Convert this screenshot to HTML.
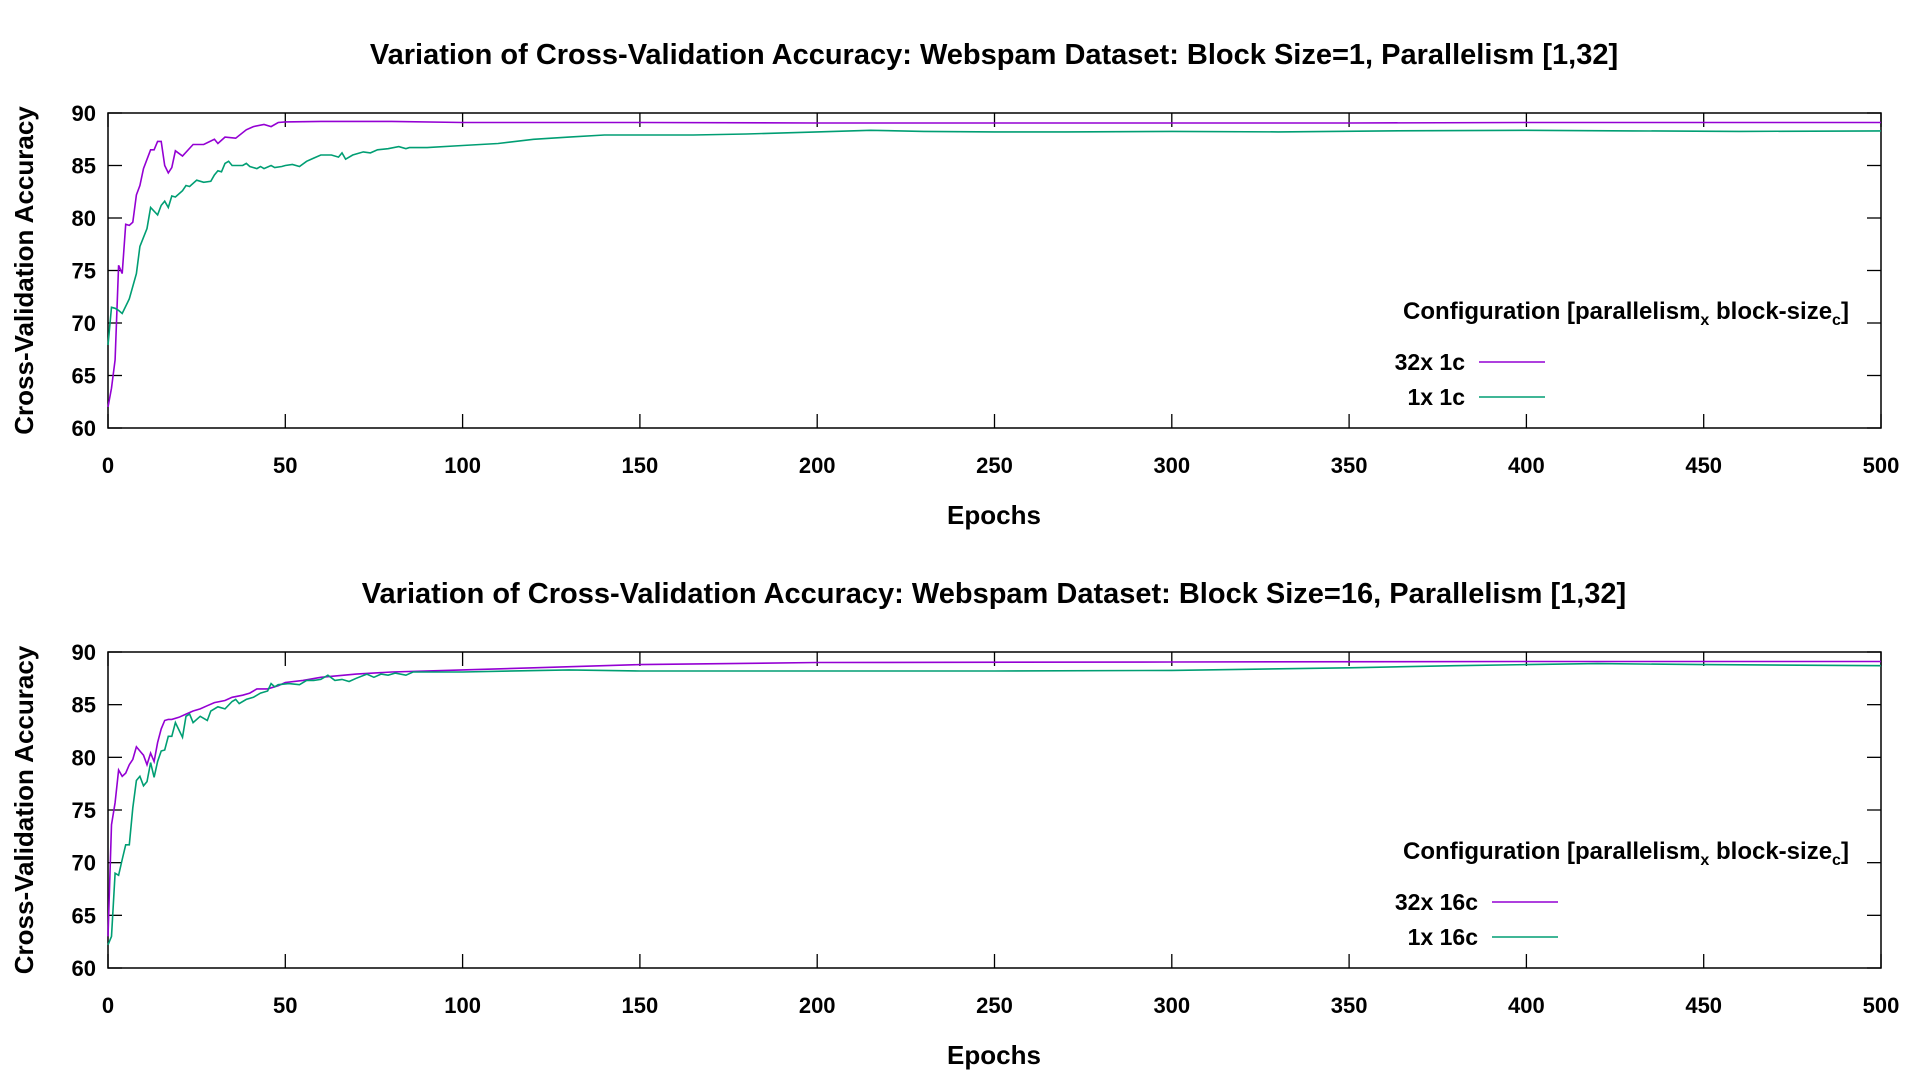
<!DOCTYPE html>
<html><head><meta charset="utf-8"><style>
html,body{margin:0;padding:0;background:#fff;}
svg{display:block;font-family:"Liberation Sans",sans-serif;font-weight:bold;}
</style></head><body>
<svg id="chart" width="1920" height="1080" viewBox="0 0 1920 1080" xmlns="http://www.w3.org/2000/svg"></svg>
<script>
// ---- data: top panel (block size 1)
const topP32x = [0,1,2,3,4,5,6,7,8,9,10,12,13,14,15,16,17,18,19,21,24,27,30,31,33,36,39,41,44,46,48,50,60,80,100,150,200,250,300,350,400,450,500];
const topP32y = [62,63.8,66.5,75.5,74.7,79.4,79.3,79.6,82.2,83.1,84.7,86.5,86.5,87.3,87.3,85,84.3,84.8,86.4,85.9,87,87,87.5,87.1,87.7,87.6,88.4,88.7,88.9,88.7,89.1,89.15,89.2,89.2,89.1,89.1,89.05,89.05,89.05,89.05,89.1,89.1,89.1];
const topP1x = [0,1,2,3,4,6,8,9,11,12,14,15,16,17,18,19,21,22,23,25,27,29,30,31,32,33,34,35,37,38,39,40,42,43,44,46,47,49,50,52,54,56,58,60,63,65,66,67,69,72,74,76,79,82,84,85,90,100,110,120,130,140,150,165,180,200,215,230,250,270,300,330,360,400,430,460,500];
const topP1y = [67.9,71.5,71.4,71.2,70.9,72.3,74.7,77.3,79,81,80.3,81.2,81.6,81,82.1,82,82.6,83.1,83,83.6,83.4,83.5,84.1,84.5,84.4,85.2,85.4,85,85,85,85.2,84.9,84.7,84.9,84.7,85,84.8,84.9,85,85.1,84.9,85.4,85.7,86,86,85.8,86.2,85.6,86,86.3,86.2,86.5,86.6,86.8,86.6,86.7,86.7,86.9,87.1,87.5,87.7,87.9,87.9,87.9,88,88.2,88.35,88.25,88.2,88.2,88.25,88.2,88.3,88.35,88.3,88.25,88.3];
// ---- data: bottom panel (block size 16)
const botP32x = [0,1,2,3,4,5,6,7,8,9,10,11,12,13,14,15,16,17,18,20,22,24,26,28,30,33,35,38,40,42,45,48,50,55,60,70,80,100,120,150,200,300,400,500];
const botP32y = [63,73.6,75.7,78.8,78.2,78.5,79.3,79.8,81,80.6,80.2,79.3,80.4,79.6,81.4,82.7,83.5,83.6,83.6,83.8,84.1,84.4,84.6,84.9,85.2,85.4,85.7,85.9,86.1,86.5,86.5,86.8,87.1,87.3,87.6,87.9,88.1,88.3,88.5,88.8,89,89.05,89.1,89.1];
const botP1x = [0,1,2,3,4,5,6,7,8,9,10,11,12,13,14,15,16,17,18,19,21,22,23,24,26,28,29,31,33,35,36,37,39,41,43,45,46,47,48,51,54,56,58,60,62,64,66,68,70,73,75,77,79,81,84,86,100,130,150,200,250,300,350,380,400,420,450,500];
const botP1y = [62.2,63,69,68.8,70.3,71.7,71.7,75.2,77.8,78.2,77.3,77.7,79.5,78.1,79.6,80.6,80.7,82,82,83.3,81.9,83.9,84.1,83.3,83.9,83.5,84.4,84.8,84.6,85.3,85.5,85.1,85.5,85.7,86.1,86.3,87,86.7,86.9,87,86.9,87.3,87.3,87.4,87.8,87.3,87.4,87.2,87.5,87.9,87.6,87.9,87.8,88,87.8,88.1,88.1,88.3,88.2,88.2,88.2,88.25,88.5,88.7,88.8,88.9,88.8,88.7];
const xTicks = [0,50,100,150,200,250,300,350,400,450,500];
const yTicks = [60,65,70,75,80,85,90];

const svg = document.getElementById('chart');
const NS = 'http://www.w3.org/2000/svg';
const X0 = 108, X1 = 1881;
function el(tag, attrs, parent){const e=document.createElementNS(NS,tag);for(const k in attrs)e.setAttribute(k,attrs[k]);(parent||svg).appendChild(e);return e;}
function txt(s, attrs, parent){const e=el('text',attrs,parent);e.textContent=s;return e;}

function panel(pfx, top, bot, title, series, legendY, legendRight, cfgY){
  const g = el('g',{});
  
  
  const xs = v => X0 + (v/500)*(X1-X0);
  const ys = v => bot - (v-60)/30*(bot-top);
  const t = txt(title,{x:994,y:top-49,'text-anchor':'middle','font-size':29},g);
  
  
  const f = el('rect',{x:X0,y:top,width:X1-X0,height:bot-top,fill:'none',stroke:'#000','stroke-width':1.5},g);
  
  
  xTicks.forEach(v=>{
    const x=xs(v);
    el('line',{x1:x,x2:x,y1:bot,y2:bot-14,stroke:'#000','stroke-width':1.3},g);
    el('line',{x1:x,x2:x,y1:top,y2:top+14,stroke:'#000','stroke-width':1.3},g);
    const l=txt(String(v),{x:x,y:bot+45,'text-anchor':'middle','font-size':22},g);
    
    
  });
  yTicks.forEach(v=>{
    const y=ys(v);
    el('line',{x1:X0,x2:X0+14,y1:y,y2:y,stroke:'#000','stroke-width':1.3},g);
    el('line',{x1:X1,x2:X1-14,y1:y,y2:y,stroke:'#000','stroke-width':1.3},g);
    const l=txt(String(v),{x:X0-12,y:y+8,'text-anchor':'end','font-size':22},g);
    
    
  });
  const xt=txt('Epochs',{x:994,y:bot+96,'text-anchor':'middle','font-size':26},g);
  
  
  const cy=(top+bot)/2;
  const yt=txt('Cross-Validation Accuracy',{x:0,y:0,'text-anchor':'middle','font-size':26,transform:'translate(33,'+cy+') rotate(-90)'},g);
  
  
  series.forEach(s=>{
    const pts=s.x.map((v,i)=>xs(v).toFixed(1)+','+ys(s.y[i]).toFixed(1)).join(' ');
    const pl=el('polyline',{points:pts,fill:'none',stroke:s.color,'stroke-width':1.6},g);
    
    
  });
  const cfg=el('text',{x:1626,y:cfgY,'text-anchor':'middle','font-size':24},g);
  
  
  cfg.innerHTML='Configuration [parallelism<tspan font-size="16" dy="6">x</tspan><tspan dy="-6"> block-size</tspan><tspan font-size="16" dy="6">c</tspan><tspan dy="-6">]</tspan>';
  series.forEach((s,i)=>{
    const y=legendY+i*35;
    const le=el('g',{},g);
    
    
    txt(s.label,{x:legendRight,y:y+8,'text-anchor':'end','font-size':23},le);
    el('line',{x1:legendRight+14,x2:legendRight+80,y1:y,y2:y,stroke:s.color,'stroke-width':1.6},le);
  });
}
panel('top',113,428,'Variation of Cross-Validation Accuracy: Webspam Dataset: Block Size=1, Parallelism [1,32]',
  [{key:'32x-1c',label:'32x 1c',x:topP32x,y:topP32y,color:'#9400d3'},{key:'1x-1c',label:'1x 1c',x:topP1x,y:topP1y,color:'#009e73'}],362,1465,319);
panel('bottom',652,968,'Variation of Cross-Validation Accuracy: Webspam Dataset: Block Size=16, Parallelism [1,32]',
  [{key:'32x-16c',label:'32x 16c',x:botP32x,y:botP32y,color:'#9400d3'},{key:'1x-16c',label:'1x 16c',x:botP1x,y:botP1y,color:'#009e73'}],902,1478,859);
</script>
</body></html>
